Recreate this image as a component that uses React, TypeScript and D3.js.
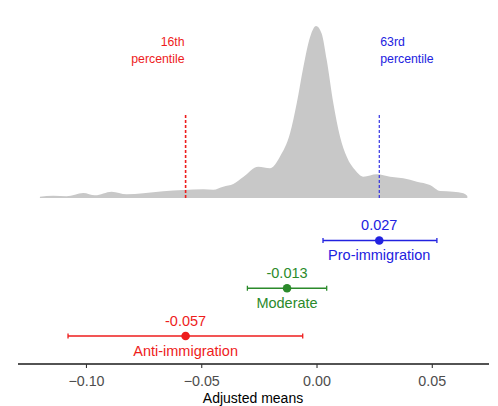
import * as d3 from 'd3'

// density of adjusted means (grey area)
const densityX = [
  -0.1202, -0.1144, -0.1086, -0.1014, -0.0963, -0.0891, -0.0826, -0.0754, -0.0667, -0.058,
  -0.0493, -0.045, -0.0407, -0.0363, -0.032, -0.0255, -0.0204, -0.0161, -0.0117, -0.0088,
  -0.0059, -0.003, -0.0004, 0.002, 0.0042, 0.0071, 0.01, 0.0129, 0.0165, 0.0201,
  0.0259, 0.0317, 0.0374, 0.0433, 0.049, 0.0534, 0.0591, 0.0635, 0.0652,
]
const densityY = [
  0.23, 0.4, 0.3, 0.87, 0.47, 1.1, 0.65, 0.82, 1.17, 1.4,
  1.52, 1.45, 1.97, 2.44, 3.66, 5.46, 5.18, 7.2, 11.28, 16.52,
  22.9, 28.1, 30, 28.7, 24.1, 16.5, 10.7, 7.2, 4.88, 3.72,
  4.13, 3.72, 3.43, 2.85, 2.27, 1.22, 1.1, 0.82, 0.35,
]

const groups = ['Anti-immigration', 'Moderate', 'Pro-immigration']
const groupColors = ['#ee1c1c', '#2b8a2b', '#2222e0']
const means = [-0.057, -0.013, 0.027]
const lower = [-0.108, -0.0302, 0.0026]
const upper = [-0.0062, 0.0042, 0.052]

const percentileLabels = ['16th', '63rd']
const percentileValues = [-0.057, 0.027]
const percentileColors = ['#ee1c1c', '#2222e0']

const xTicks = [-0.1, -0.05, 0, 0.05]

const W = 498
const H = 406
const font = '"Liberation Sans", Arial, sans-serif'

export default function App() {
  const x = d3.scaleLinear().domain([-0.1297, 0.0746]).range([18, 489])
  const yDens = d3.scaleLinear().domain([0, 30]).range([198, 26])
  const yGroup = d3.scalePoint<string>().domain(groups).range([336, 240.5])
  const axisY = 364

  const area = d3
    .area<number>()
    .x((_, i) => x(densityX[i]))
    .y0(yDens(0))
    .y1((d) => yDens(d))
    .curve(d3.curveMonotoneX)

  const fmt = (v: number) => d3.format('.2f')(v).replace('-', '\u2212')

  return (
    <svg
      width={W}
      height={H}
      viewBox={`0 0 ${W} ${H}`}
      style={{ position: 'absolute', left: 0, top: 0, background: '#fff' }}
      fontFamily={font}
    >
      <path d={area(densityY) || ''} fill="#c8c8c8" />

      {percentileValues.map((v, i) => (
        <g key={percentileLabels[i]}>
          <line
            x1={x(v)}
            x2={x(v)}
            y1={yDens(0)}
            y2={113}
            stroke={percentileColors[i]}
            strokeWidth={i === 0 ? 1.6 : 1.1}
            strokeDasharray="3,2"
          />
          <text
            x={i === 0 ? x(v) - 1 : x(v) + 1}
            y={46}
            fontSize={12.3}
            fill={percentileColors[i]}
            textAnchor={i === 0 ? 'end' : 'start'}
          >
            <tspan x={i === 0 ? x(v) - 1 : x(v) + 1}>{percentileLabels[i]}</tspan>
            <tspan x={i === 0 ? x(v) - 1 : x(v) + 1} dy={16.5}>
              percentile
            </tspan>
          </text>
        </g>
      ))}

      {groups.map((g, i) => {
        const cy = yGroup(g) || 0
        return (
          <g key={g} fill={groupColors[i]} stroke={groupColors[i]}>
            <line x1={x(lower[i])} x2={x(upper[i])} y1={cy} y2={cy} strokeWidth={1.6} />
            <line x1={x(lower[i])} x2={x(lower[i])} y1={cy - 2.5} y2={cy + 2.5} strokeWidth={1.3} />
            <line x1={x(upper[i])} x2={x(upper[i])} y1={cy - 2.5} y2={cy + 2.5} strokeWidth={1.3} />
            <circle cx={x(means[i])} cy={cy} r={4.3} stroke="none" />
            <text x={x(means[i])} y={cy - 10.5} fontSize={14.5} textAnchor="middle" stroke="none">
              {means[i].toFixed(3)}
            </text>
            <text x={x(means[i])} y={cy + 19.5} fontSize={14.5} textAnchor="middle" stroke="none">
              {g}
            </text>
          </g>
        )
      })}

      <line x1={x.range()[0]} x2={x.range()[1]} y1={axisY} y2={axisY} stroke="#1a1a1a" strokeWidth={1.6} />
      {xTicks.map((t) => (
        <g key={t}>
          <line x1={x(t)} x2={x(t)} y1={axisY} y2={axisY + 4} stroke="#333" strokeWidth={1.1} />
          <text x={x(t)} y={385.5} fontSize={14.3} fill="#4d4d4d" textAnchor="middle">
            {fmt(t)}
          </text>
        </g>
      ))}
      <text x={x(0) - 64} y={403} fontSize={14} fill="#000" textAnchor="middle">
        Adjusted means
      </text>
    </svg>
  )
}
